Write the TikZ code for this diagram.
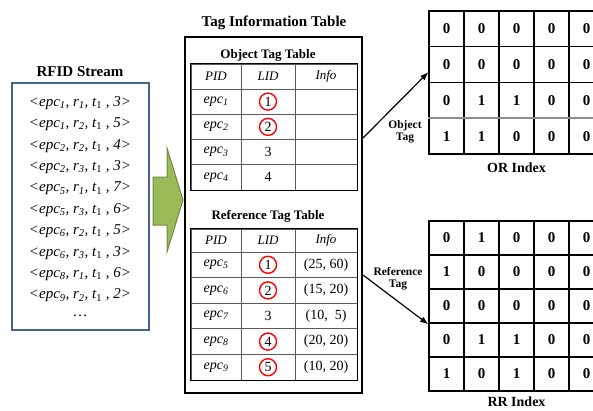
\documentclass[tikz,border=0pt]{standalone}
\usepackage{fontspec}
\setmainfont{Liberation Serif}
\usetikzlibrary{arrows.meta,positioning}

\definecolor{streamblue}{RGB}{65,100,145}
\definecolor{arrowgreen}{RGB}{155,187,89}
\definecolor{arrowdark}{RGB}{113,137,63}

\begin{document}
\begin{tikzpicture}[ x=1pt, y=-1pt, >=Latex,
    title/.style={font=\fontsize{15}{15}\selectfont\bfseries, inner sep=0pt},
    subtitle/.style={font=\fontsize{13}{13}\selectfont\bfseries, inner sep=0pt},
    rec/.style={font=\fontsize{15}{15}\selectfont\itshape, inner sep=0pt},
    cell/.style={draw=black!65, line width=0.8pt, inner sep=0pt,
      font=\fontsize{14}{14}\selectfont},
    head/.style={cell, font=\fontsize{13}{13}\selectfont\itshape},
    ring/.style={draw=red, circle, line width=1.4pt, minimum size=17pt, inner sep=0pt},
    bit/.style={draw, line width=1.2pt, inner sep=0pt, minimum width=35,
      font=\fontsize{15}{15}\selectfont\bfseries},
    idx/.style={font=\fontsize{14}{14}\selectfont\bfseries, inner sep=0pt},
    tagl/.style={font=\fontsize{11.5}{12}\selectfont\bfseries, align=center, inner sep=0pt},
    link/.style={->, line width=1.2pt} ]

  \useasboundingbox (0,0) rectangle (593,410);
  \clip (0,0) rectangle (593,410);

  % stream of readings
  \node[title] (streamtitle) at (80,72) {RFID Stream};
  \node[draw=streamblue, line width=2pt, minimum width=137, minimum height=247]
    (stream) at (80.5,206.5) {};
  \foreach \e/\r/\v [count=\k] in {1/1/3, 1/2/5, 2/2/4, 2/3/3, 5/1/7,
      5/3/6, 6/2/5, 6/3/3, 8/1/6, 9/2/2}
    \node[rec] (s\k) at (80,{103+21.4*(\k-1)})
      {<epc\textsubscript{\e}, r\textsubscript{\r}, t\textsubscript{\upshape 1} , \v>};
  \node[rec, font=\fontsize{15}{15}\selectfont] (sdots) at (80,316) {\dots};

  % block arrow
  \draw[fill=arrowgreen, draw=arrowdark, line width=1pt] (153,177) -- (167,177)
    -- (167,148) -- (183,200) -- (167,252) -- (167,225) -- (153,225) -- cycle;

  % tag information table
  \node[title] (infotitle) at (274,23) {Tag Information Table};
  \node[draw, line width=2pt, minimum width=177, minimum height=356]
    (info) at (273.5,215) {};

  \node[subtitle] (objtitle) at (268,55) {Object Tag Table};
  \node[head, minimum width=50, minimum height=25] (ohp) at (216,76.5) {PID};
  \node[head, minimum width=54, minimum height=25] (ohl) at (268,76.5) {LID};
  \node[head, minimum width=62, minimum height=25] (ohi) at (326,76.5) {Info};
  \foreach \k in {1,...,4} {
    \node[cell, minimum width=50, minimum height=25.25] (op\k)
      at (216,{89+25.25*(\k-0.5)}) {\itshape epc\textsubscript{\k}};
    \node[cell, minimum width=54, minimum height=25.25] (ol\k)
      at (268,{89+25.25*(\k-0.5)}) {\k};
    \node[cell, minimum width=62, minimum height=25.25] (oi\k)
      at (326,{89+25.25*(\k-0.5)}) {};
  }
  \draw[line width=1pt] (ohp.north west) rectangle (oi4.south east);
  \node[ring] (oring1) at (ol1) {};
  \node[ring] (oring2) at (ol2) {};

  \node[subtitle] (reftitle) at (268,216) {Reference Tag Table};
  \node[head, minimum width=50, minimum height=23] (rhp) at (216,240.5) {PID};
  \node[head, minimum width=54, minimum height=23] (rhl) at (268,240.5) {LID};
  \node[head, minimum width=62, minimum height=23] (rhi) at (326,240.5) {Info};
  \foreach \e/\info [count=\k] in {5/{(25, 60)}, 6/{(15, 20)}, 7/{(10,\ \ 5)},
      8/{(20, 20)}, 9/{(10, 20)}} {
    \node[cell, minimum width=50, minimum height=25.6] (rp\k)
      at (216,{252+25.6*(\k-0.5)}) {\itshape epc\textsubscript{\e}};
    \node[cell, minimum width=54, minimum height=25.6] (rl\k)
      at (268,{252+25.6*(\k-0.5)}) {\k};
    \node[cell, minimum width=62, minimum height=25.6] (ri\k)
      at (326,{252+25.6*(\k-0.5)}) {\info};
  }
  \draw[line width=1pt] (rhp.north west) rectangle (ri5.south east);
  \foreach \k in {1,2,4,5}
    \node[ring] (rring\k) at (rl\k) {};

  % OR index
  \foreach \row [count=\i] in {{0,0,0,0,0},{0,0,0,0,0},{0,1,1,0,0},{1,1,0,0,0}}
    \foreach \b [count=\j] in \row
      \node[bit, minimum height=35.75] (or\i\j)
        at ({429+35*(\j-0.5)},{11+35.75*(\i-0.5)}) {\b};
  \draw[black!45, line width=2pt] (or41.north west) -- (or45.north east);
  \node[idx, below=8pt of or43] (orlabel) {OR Index};

  % RR index
  \foreach \row [count=\i] in {{0,1,0,0,0},{1,0,0,0,0},{0,0,0,0,0},{0,1,1,0,0},{1,0,1,0,0}}
    \foreach \b [count=\j] in \row
      \node[bit, minimum height=34] (rr\i\j)
        at ({429+35*(\j-0.5)},{221+34*(\i-0.5)}) {\b};
  \node[idx, below=5pt of rr53] (rrlabel) {RR Index};

  % connectors
  \draw[link] ([yshift=77pt]info.east) -- ([yshift=-7.5pt]or21.west);
  \node[tagl] (objtag) at (405,132) {Object\\Tag};
  \draw[link] ([yshift=-60pt]info.east) -- ([yshift=-2pt]rr41.north west);
  \node[tagl] (reftag) at (398,279) {Reference\\Tag};

\end{tikzpicture}
\end{document}
